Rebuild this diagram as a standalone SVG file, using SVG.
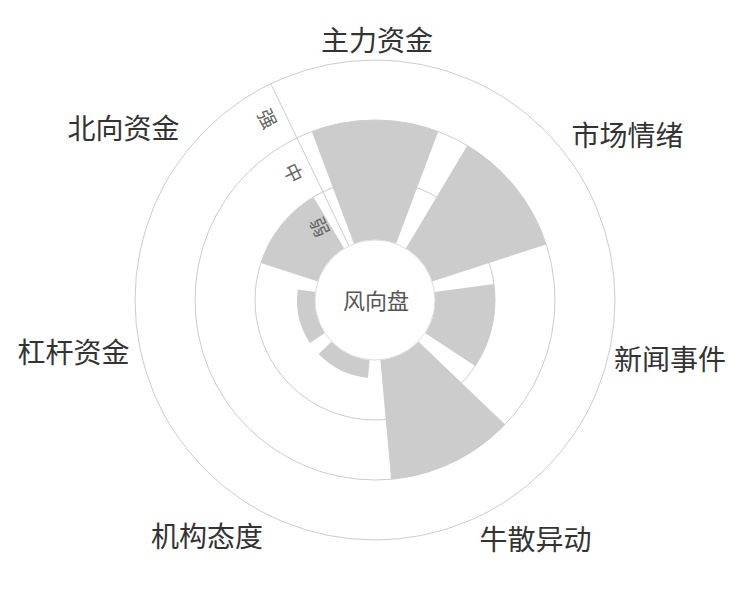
<svg xmlns="http://www.w3.org/2000/svg" width="750" height="600" viewBox="0 0 750 600">
<style>
.ring{fill:none;stroke:#cccccc;stroke-width:1}
.bar{fill:#cccccc;stroke:none}
.cat{font-family:"Noto Sans CJK SC","Noto Sans",sans-serif;font-size:28px;fill:#333333}
.lvl{font-family:"Noto Sans CJK SC","Noto Sans",sans-serif;font-size:19px;fill:#666666;text-anchor:middle;dominant-baseline:central}
.ctr{font-family:"Noto Sans CJK SC","Noto Sans",sans-serif;font-size:22px;fill:#555555;text-anchor:middle}
</style>
<rect width="750" height="600" fill="#ffffff"/>
<g id="grid">
<circle class="ring" cx="375" cy="300" r="240"/>
<circle class="ring" cx="375" cy="300" r="180"/>
<circle class="ring" cx="375" cy="300" r="120"/>
</g>
<g id="connectors">
<line class="ring" x1="348.97" y1="245.94" x2="270.87" y2="83.77"/>
</g>
<g id="bars">
<path id="bar-zhuli" class="bar" d="M353.92 243.83 L311.75 131.48 A180 180 0 0 1 438.25 131.48 L396.08 243.83 A60 60 0 0 0 353.92 243.83 Z"/>
<path id="bar-qingxu" class="bar" d="M405.77 248.49 L467.32 145.48 A180 180 0 0 1 546.19 244.38 L432.06 281.46 A60 60 0 0 0 405.77 248.49 Z"/>
<path id="bar-xinwen" class="bar" d="M434.46 291.95 L493.91 283.89 A120 120 0 0 1 475.15 366.11 L425.07 333.05 A60 60 0 0 0 434.46 291.95 Z"/>
<path id="bar-niusan" class="bar" d="M418.37 341.46 L505.10 424.39 A180 180 0 0 1 391.14 479.28 L380.38 359.76 A60 60 0 0 0 418.37 341.46 Z"/>
<path id="bar-jigou" class="bar" d="M369.62 359.76 L368.01 377.69 A78 78 0 0 1 318.62 353.90 L331.63 341.46 A60 60 0 0 0 369.62 359.76 Z"/>
<path id="bar-ganggan" class="bar" d="M324.93 333.05 L309.90 342.97 A78 78 0 0 1 297.71 289.53 L315.54 291.95 A60 60 0 0 0 324.93 333.05 Z"/>
<path id="bar-beixiang" class="bar" d="M317.94 281.46 L260.87 262.92 A120 120 0 0 1 313.45 196.99 L344.23 248.49 A60 60 0 0 0 317.94 281.46 Z"/>
</g>
<g id="center">
<circle cx="375" cy="300" r="60" fill="#ffffff" stroke="#dddddd" stroke-width="1"/>
<text class="ctr" x="376" y="309">风向盘</text>
</g>
<g id="levels">
<text class="lvl" transform="translate(268.6 118.2) rotate(64.3)">强</text>
<text class="lvl" transform="translate(294.6 172.3) rotate(64.3)">中</text>
<text class="lvl" transform="translate(320.7 226.3) rotate(64.3)">弱</text>
</g>
<g id="node-zhuli"><text class="cat" x="377" y="50.5" text-anchor="middle">主力资金</text></g>
<g id="node-qingxu"><text class="cat" x="571.5" y="145.5" text-anchor="start">市场情绪</text></g>
<g id="node-xinwen"><text class="cat" x="614" y="370" text-anchor="start">新闻事件</text></g>
<g id="node-niusan"><text class="cat" x="479.5" y="550" text-anchor="start">牛散异动</text></g>
<g id="node-jigou"><text class="cat" x="263" y="547" text-anchor="end">机构态度</text></g>
<g id="node-ganggan"><text class="cat" x="129.5" y="362.5" text-anchor="end">杠杆资金</text></g>
<g id="node-beixiang"><text class="cat" x="179.5" y="139" text-anchor="end">北向资金</text></g>
</svg>
